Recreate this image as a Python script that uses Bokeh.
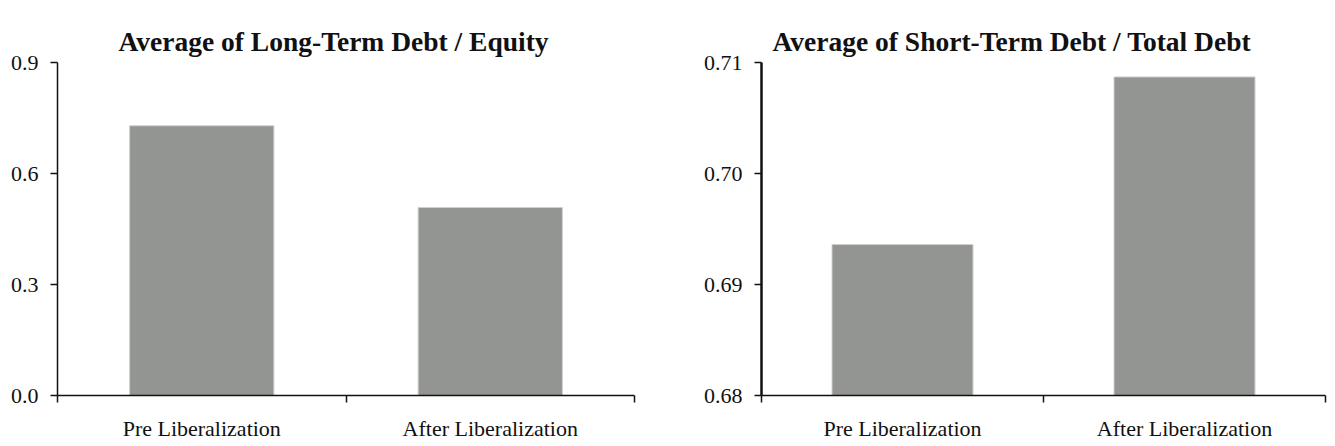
from bokeh.plotting import figure
from bokeh.layouts import row
from bokeh.models import Range1d, FixedTicker, LinearAxis, Title
from bokeh.embed import file_html
from bokeh.resources import INLINE

# ---- data ----
categories = ["Pre Liberalization", "After Liberalization"]
lt_debt_equity = [0.729, 0.508]
st_debt_total = [0.6936, 0.7087]
left_title = "Average of Long-Term Debt / Equity"
right_title = "Average of Short-Term Debt / Total Debt"
left_ticks = [0.0, 0.3, 0.6, 0.9]
left_tick_labels = ["0.0", "0.3", "0.6", "0.9"]
right_ticks = [0.68, 0.69, 0.70, 0.71]
right_tick_labels = ["0.68", "0.69", "0.70", "0.71"]

FONT = "Liberation Serif"
TEXT = "#111111"
BAR = "#939592"
BAR_EDGE = "#cfd0ce"


def make_panel(title, values, ticks, tick_labels, width, b_left, b_right,
               title_offset, yaxis_lw):
    n = len(categories)
    centers = [i + 0.5 for i in range(n)]
    p = figure(width=width, height=443, output_backend="svg",
               toolbar_location=None, title=None,
               x_range=Range1d(0, n), y_range=Range1d(ticks[0], ticks[-1]),
               min_border_left=b_left, min_border_right=b_right,
               min_border_top=62, min_border_bottom=45)
    p.vbar(x=centers, top=values, bottom=ticks[0], width=0.5,
           fill_color=BAR, line_color=BAR_EDGE, line_width=1)

    t = Title(text=title, align="left", vertical_align="top",
              text_font=FONT, text_font_style="bold",
              text_font_size="27.5px", text_color=TEXT,
              offset=title_offset, standoff=7)
    p.add_layout(t, "above")

    # invisible spacer between the frame and the title (no ticks drawn)
    spacer = LinearAxis(ticker=FixedTicker(ticks=[], minor_ticks=[]),
                        axis_line_color=None, major_tick_line_color="white",
                        minor_tick_line_color=None, major_tick_in=0,
                        major_tick_out=21, minor_tick_in=0, minor_tick_out=0,
                        major_label_standoff=0)
    p.add_layout(spacer, "above")

    p.xgrid.visible = False
    p.ygrid.visible = False
    p.outline_line_color = None
    p.background_fill_color = "white"
    p.border_fill_color = "white"

    xa = p.below[0]
    xa.ticker = FixedTicker(ticks=centers, minor_ticks=list(range(n + 1)))
    xa.major_label_overrides = {c: lab for c, lab in zip(centers, categories)}
    xa.major_tick_in = 0
    xa.major_tick_out = 0
    xa.major_tick_line_color = None
    xa.minor_tick_in = 0
    xa.minor_tick_out = 7
    xa.minor_tick_line_width = 1.5
    xa.minor_tick_line_color = TEXT
    xa.axis_line_width = 1.5
    xa.axis_line_color = TEXT
    xa.major_label_text_font = FONT
    xa.major_label_text_font_size = "22px"
    xa.major_label_text_color = TEXT
    xa.major_label_standoff = 13

    ya = p.left[0]
    ya.ticker = FixedTicker(ticks=ticks, minor_ticks=[])
    ya.major_label_overrides = {t: lab for t, lab in zip(ticks, tick_labels)}
    ya.major_tick_in = 0
    ya.major_tick_out = 7
    ya.major_tick_line_width = 1.5
    ya.major_tick_line_color = TEXT
    ya.axis_line_width = yaxis_lw
    ya.axis_line_color = TEXT
    ya.major_label_text_font = FONT
    ya.major_label_text_font_size = "22px"
    ya.major_label_text_color = TEXT
    ya.major_label_standoff = 12
    return p


left = make_panel(left_title, lt_debt_equity, left_ticks, left_tick_labels,
                  width=690, b_left=57, b_right=56, title_offset=61,
                  yaxis_lw=1.5)
right = make_panel(right_title, st_debt_total, right_ticks, right_tick_labels,
                   width=643, b_left=71, b_right=8, title_offset=11,
                   yaxis_lw=2.5)

layout = row(left, right)
open("out.html", "w").write(file_html(layout, INLINE))
